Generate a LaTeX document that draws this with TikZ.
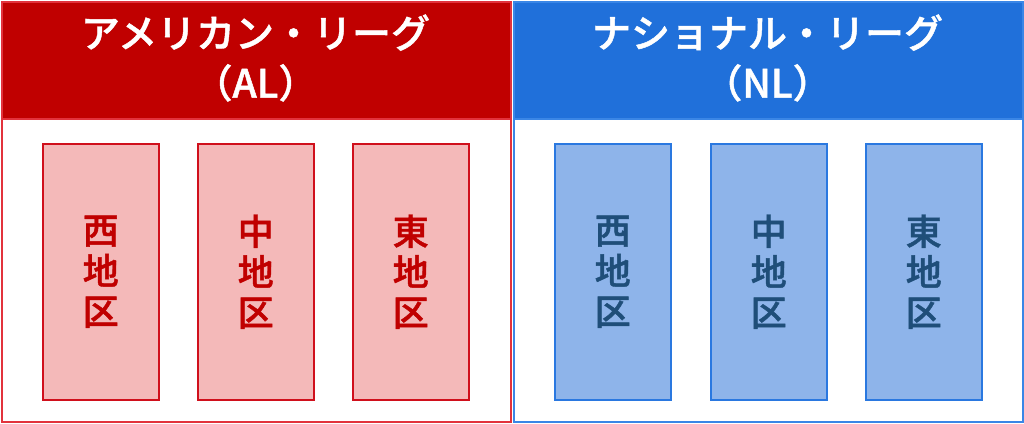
\documentclass[tikz,border=0pt]{standalone}
\usepackage{fontspec}
\newfontfamily\cjk{Noto Sans CJK JP Medium}[FakeBold=1.2]
\definecolor{alRed}{HTML}{C00000}
\definecolor{alEdge}{HTML}{E2323C}
\definecolor{alPink}{HTML}{F4B9B9}
\definecolor{alInEdge}{HTML}{D0101C}
\definecolor{nlBlue}{HTML}{2070DA}
\definecolor{nlEdge}{HTML}{3A86E6}
\definecolor{nlLight}{HTML}{8EB4EA}
\definecolor{nlInEdge}{HTML}{2A78E0}
\definecolor{nlText}{HTML}{1F4E79}
\tikzset{
  outerbox/.style={draw=#1, line width=2pt, fill=white, anchor=north west, minimum width=509pt, minimum height=420pt, inner sep=0pt},
  headbox/.style={draw=#1, line width=1.5pt, anchor=north west, minimum width=509pt, minimum height=117pt, inner sep=0pt},
  headtext/.style={text=white, align=center, font=\cjk\fontsize{39}{50}\selectfont},
  divbox/.style={line width=1.5pt, anchor=north west, minimum width=116pt, minimum height=256pt, inner sep=0pt, align=center, font=\cjk\fontsize{36}{40.5}\selectfont},
  aldiv/.style={divbox, draw=alInEdge, fill=alPink, text=alRed},
  nldiv/.style={divbox, draw=nlInEdge, fill=nlLight, text=nlText}
}
\begin{document}
\begin{tikzpicture}[x=1pt,y=-1pt]
\useasboundingbox (0,0) rectangle (1024,423);
% American League
\node[outerbox=alEdge] (alBox) at (1,1) {};
\node[headbox=alEdge, fill=alRed] (alHead) at (1,1) {};
\node[headtext] (alTitle) at (255.5,58) {アメリカン・リーグ\\（AL）};
\node[aldiv] (alWest) at (42,143) {西\\地\\区};
\node[aldiv] (alCentral) at (197,143) {中\\地\\区};
\node[aldiv] (alEast) at (352,143) {東\\地\\区};
% National League
\node[outerbox=nlEdge] (nlBox) at (513,1) {};
\node[headbox=nlEdge, fill=nlBlue] (nlHead) at (513,1) {};
\node[headtext] (nlTitle) at (767.5,58) {ナショナル・リーグ\\（NL）};
\node[nldiv] (nlWest) at (554,143) {西\\地\\区};
\node[nldiv] (nlCentral) at (710,143) {中\\地\\区};
\node[nldiv] (nlEast) at (865,143) {東\\地\\区};
\end{tikzpicture}
\end{document}
